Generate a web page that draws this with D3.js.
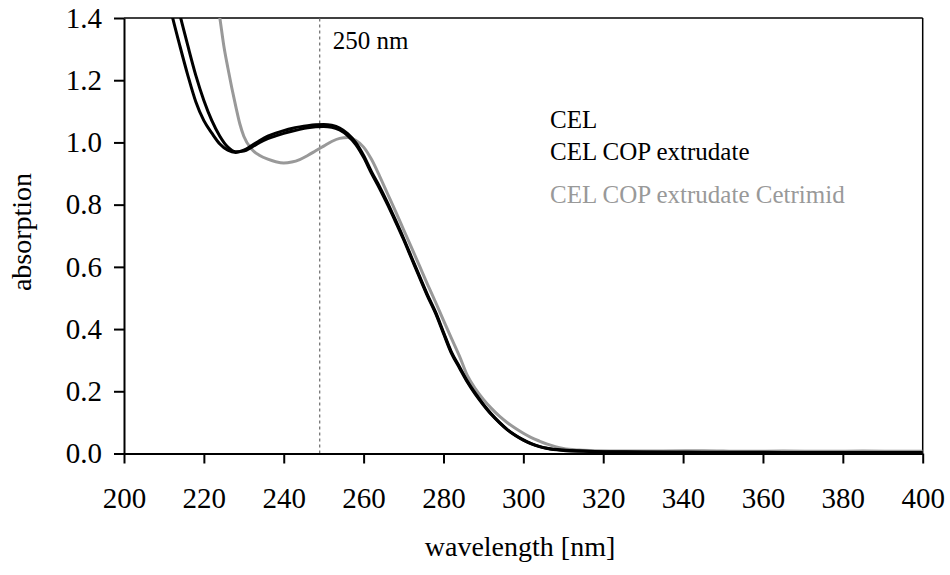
<!DOCTYPE html>
<html><head><meta charset="utf-8">
<script src="https://cdn.jsdelivr.net/npm/d3@7"></script>
<style>body{margin:0;background:#fff}svg{display:block}</style>
</head><body><svg id="c" width="950" height="575"></svg>
<script>
const wlCEL = [210,212,214,216,218,220,222,224,226,228,230,232,234,236,238,240,242,244,246,248,250,252,254,256,258,260,262,264,266,268,270,272,274,276,278,280,282,284,286,288,290,292,294,296,298,300,302,304,306,310,315,320,330,340,350,360,370,380,390,400];
const absCEL = [1.52,1.41,1.31,1.215,1.13,1.07,1.03,0.995,0.975,0.968,0.975,0.99,1.006,1.02,1.03,1.038,1.045,1.05,1.054,1.057,1.058,1.055,1.046,1.028,1.0,0.958,0.905,0.858,0.806,0.75,0.692,0.631,0.57,0.51,0.455,0.39,0.326,0.279,0.232,0.193,0.158,0.127,0.1,0.077,0.059,0.044,0.032,0.023,0.017,0.011,0.008,0.006,0.005,0.004,0.004,0.004,0.003,0.003,0.003,0.003];
const wlCOP = [210,212,214,216,218,220,222,224,226,228,230,232,234,236,238,240,242,244,246,248,250,252,254,256,258,260,262,264,266,268,270,272,274,276,278,280,282,284,286,288,290,292,294,296,298,300,302,304,306,310,315,320,330,340,350,360,370,380,390,400];
const absCOP = [1.62,1.51,1.41,1.31,1.215,1.135,1.07,1.02,0.985,0.97,0.972,0.985,1.0,1.012,1.021,1.029,1.036,1.042,1.047,1.05,1.051,1.049,1.04,1.022,0.994,0.952,0.9,0.852,0.8,0.745,0.688,0.627,0.566,0.506,0.451,0.386,0.322,0.275,0.229,0.19,0.156,0.125,0.099,0.076,0.058,0.043,0.031,0.022,0.016,0.01,0.007,0.005,0.004,0.004,0.003,0.003,0.003,0.003,0.003,0.003];
const wlCET = [222,223,224,225,226,227,228,229,230,232,234,236,238,240,242,244,246,248,250,252,254,256,258,260,262,264,266,268,270,272,274,276,278,280,282,284,286,288,290,292,294,296,298,300,302,304,306,308,310,314,318,325,335,345,355,365,375,385,395,400];
const absCET = [1.58,1.48,1.4,1.31,1.24,1.175,1.115,1.06,1.02,0.978,0.958,0.946,0.938,0.934,0.937,0.945,0.958,0.973,0.988,1.003,1.013,1.016,1.007,0.985,0.945,0.892,0.835,0.778,0.72,0.662,0.603,0.544,0.487,0.428,0.37,0.313,0.25,0.208,0.174,0.145,0.12,0.099,0.081,0.065,0.051,0.04,0.03,0.022,0.016,0.011,0.009,0.008,0.008,0.009,0.007,0.008,0.007,0.008,0.007,0.007];
const seriesNames = ["CEL","CEL COP extrudate","CEL COP extrudate Cetrimid"];
const seriesColors = ["#000000","#000000","#999999"];
const xTicks = [200,220,240,260,280,300,320,340,360,380,400];
const yTicks = [0.0,0.2,0.4,0.6,0.8,1.0,1.2,1.4];
const markerWl = 249;
const markerLabel = "250 nm";
const xTitle = "wavelength [nm]";
const yTitle = "absorption";

const FONT = "'Liberation Serif', Tinos, 'Times New Roman', serif";
const svg = d3.select("#c");
const L=124, R=922.7, T=18, B=453.5;
const x = d3.scaleLinear().domain([200,400]).range([L,R]);
const y = d3.scaleLinear().domain([0,1.4]).range([B,T]);

svg.append("defs").append("clipPath").attr("id","clip")
  .append("rect").attr("x",L).attr("y",T).attr("width",R-L).attr("height",B-T);

svg.append("line").attr("x1",L).attr("x2",R).attr("y1",T).attr("y2",T).attr("stroke","#000").attr("stroke-width",1.5);
svg.append("line").attr("x1",R).attr("x2",R).attr("y1",T).attr("y2",B).attr("stroke","#000").attr("stroke-width",1.5);

svg.append("line").attr("x1",x(markerWl)).attr("x2",x(markerWl)).attr("y1",B).attr("y2",T)
  .attr("stroke","#777").attr("stroke-width",1.3).attr("stroke-dasharray","3,3");
svg.append("text").attr("x",x(markerWl)+13).attr("y",49).attr("font-size",25).attr("fill","#000")
  .style("font-family",FONT).text(markerLabel);

const line = d3.line().x(d=>x(d[0])).y(d=>y(d[1])).curve(d3.curveMonotoneX);
const data = [d3.zip(wlCET,absCET), d3.zip(wlCEL,absCEL), d3.zip(wlCOP,absCOP)];
const cols = [seriesColors[2],seriesColors[0],seriesColors[1]];
const g = svg.append("g").attr("clip-path","url(#clip)");
data.forEach((d,i)=>{
  g.append("path").datum(d).attr("d",line).attr("fill","none").attr("stroke",cols[i]).attr("stroke-width",3);
});

const xa = svg.append("g").attr("transform",`translate(0,${B})`)
  .call(d3.axisBottom(x).tickValues(xTicks).tickSize(10).tickPadding(24).tickSizeOuter(0));
const ya = svg.append("g").attr("transform",`translate(${L},0)`)
  .call(d3.axisLeft(y).tickValues(yTicks).tickFormat(d3.format(".1f")).tickSize(10).tickPadding(12).tickSizeOuter(0));
[xa,ya].forEach(a=>{
  a.select(".domain").attr("stroke","#000").attr("stroke-width",2);
  a.selectAll(".tick line").attr("stroke","#000").attr("stroke-width",2);
  a.selectAll(".tick text").attr("font-size",29).attr("fill","#000").style("font-family",FONT);
});

svg.append("text").attr("x",520).attr("y",556).attr("text-anchor","middle").attr("font-size",28)
  .style("font-family",FONT).text(xTitle);
svg.append("text").attr("transform","translate(31,232) rotate(-90)").attr("text-anchor","middle").attr("font-size",28)
  .style("font-family",FONT).text(yTitle);

const legY=[128,160,203];
seriesNames.forEach((n,i)=>{
  svg.append("text").attr("x",550).attr("y",legY[i]).attr("font-size",25).attr("fill",seriesColors[i])
    .style("font-family",FONT).text(n);
});
</script></body></html>
